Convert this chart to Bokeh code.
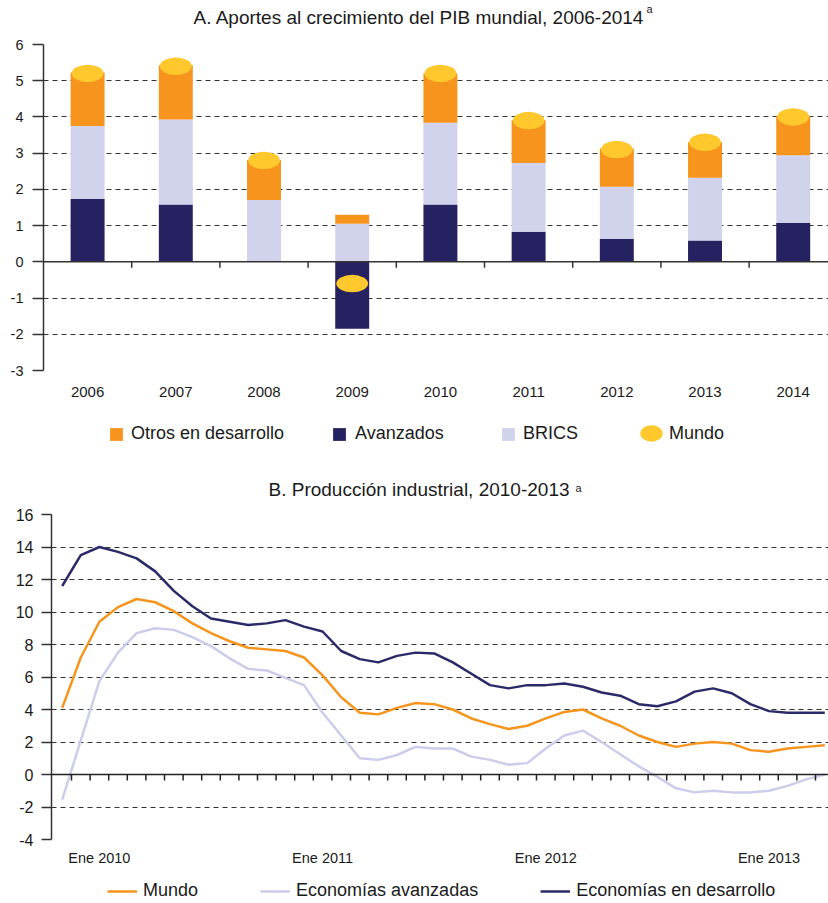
import math
import numpy as np
from bokeh.plotting import figure
from bokeh.layouts import column
from bokeh.models import (Range1d, FixedTicker, SingleIntervalTicker, Legend,
                          LegendItem, Span, Label)
from bokeh.embed import file_html
from bokeh.resources import INLINE

FONT = "Liberation Sans"
TXT = "#1a1a1a"
AX = "#333333"
W = 828

# ---------------- Panel A data ----------------
years = ["2006", "2007", "2008", "2009", "2010", "2011", "2012", "2013", "2014"]
avanzados = [1.74, 1.58, 0.03, -1.85, 1.58, 0.83, 0.63, 0.59, 1.08]
brics = [2.01, 2.35, 1.68, 1.05, 2.26, 1.90, 1.44, 1.73, 1.86]
otros = [1.48, 1.50, 1.10, 0.25, 1.36, 1.18, 1.06, 0.98, 1.09]
mundo = [5.2, 5.4, 2.8, -0.6, 5.2, 3.9, 3.1, 3.3, 4.0]

# ---------------- Panel B data ----------------
months = ["Nov 2009", "Dic 2009",
          "Ene 2010", "Feb 2010", "Mar 2010", "Abr 2010", "May 2010", "Jun 2010",
          "Jul 2010", "Ago 2010", "Sep 2010", "Oct 2010", "Nov 2010", "Dic 2010",
          "Ene 2011", "Feb 2011", "Mar 2011", "Abr 2011", "May 2011", "Jun 2011",
          "Jul 2011", "Ago 2011", "Sep 2011", "Oct 2011", "Nov 2011", "Dic 2011",
          "Ene 2012", "Feb 2012", "Mar 2012", "Abr 2012", "May 2012", "Jun 2012",
          "Jul 2012", "Ago 2012", "Sep 2012", "Oct 2012", "Nov 2012", "Dic 2012",
          "Ene 2013", "Feb 2013", "Mar 2013", "Abr 2013"]
ind_mundo = [4.1, 7.2, 9.4, 10.3, 10.8, 10.6, 10.05, 9.3, 8.7, 8.2, 7.8, 7.7, 7.6, 7.2,
             6.1, 4.75, 3.8, 3.7, 4.1, 4.4, 4.33, 4.0, 3.45, 3.1, 2.8, 3.0, 3.45, 3.85,
             4.0, 3.45, 3.0, 2.4, 2.0, 1.7, 1.9, 2.0, 1.9, 1.5, 1.4, 1.6, 1.7, 1.8]
ind_avanzadas = [-1.55, 2.1, 5.75, 7.5, 8.7, 9.0, 8.9, 8.45, 7.9, 7.15, 6.5, 6.4, 5.95, 5.5,
                 3.8, 2.4, 1.0, 0.9, 1.2, 1.7, 1.6, 1.6, 1.1, 0.9, 0.6, 0.7, 1.6, 2.4,
                 2.7, 2.0, 1.25, 0.5, -0.15, -0.85, -1.1, -1.0, -1.1, -1.1, -1.0, -0.7, -0.3, 0.0]
ind_desarrollo = [11.6, 13.5, 14.0, 13.7, 13.3, 12.5, 11.3, 10.35, 9.6, 9.4, 9.2, 9.3, 9.5, 9.1,
                  8.8, 7.6, 7.1, 6.9, 7.3, 7.5, 7.45, 6.9, 6.2, 5.5, 5.3, 5.5, 5.5, 5.6,
                  5.4, 5.05, 4.85, 4.33, 4.2, 4.5, 5.1, 5.3, 5.0, 4.33, 3.9, 3.8, 3.8, 3.8]

C_ORANGE = "#F7941E"
C_NAVY = "#262262"
C_BRICS = "#D1D3ED"
C_YELLOW = "#FFC82C"
C_LAV_LINE = "#CBCDEB"
C_NAVY_LINE = "#2B2A68"
NAN = np.array([np.nan])


def style_axes(p, tick_out, standoff, ysize):
    p.outline_line_color = None
    p.xgrid.visible = False
    p.ygrid.grid_line_color = "#333333"
    p.ygrid.grid_line_dash = "5 4"
    p.ygrid.grid_line_width = 1
    p.yaxis.axis_line_color = AX
    p.yaxis.axis_line_width = 1.5
    p.yaxis.major_tick_line_color = AX
    p.yaxis.major_tick_line_width = 1.5
    p.yaxis.major_tick_out = tick_out
    p.yaxis.major_tick_in = 0
    p.yaxis.minor_tick_line_color = None
    p.yaxis.major_label_standoff = standoff
    p.yaxis.major_label_text_font = FONT
    p.yaxis.major_label_text_font_size = ysize
    p.yaxis.major_label_text_color = TXT
    p.xaxis.axis_line_color = None
    p.xaxis.major_tick_line_color = None
    p.xaxis.minor_tick_line_color = None
    p.xaxis.major_label_text_font = FONT
    p.xaxis.major_label_text_color = TXT


def strip(h):
    s = figure(width=W, height=h, x_range=Range1d(0, W), y_range=Range1d(0, h),
               output_backend="svg", toolbar_location=None, min_border=0,
               min_border_left=0, min_border_right=0, min_border_top=0, min_border_bottom=0,
               x_axis_location=None, y_axis_location=None, frame_align=False)
    s.outline_line_color = None
    s.xgrid.visible = False
    s.ygrid.visible = False
    return s


def title_strip(h, text, x, y, ax, ay):
    s = strip(h)
    s.add_layout(Label(x=x, y=y, text=text, text_font=FONT, text_font_size="19px",
                       text_color=TXT, text_baseline="middle", text_align="left"))
    s.add_layout(Label(x=ax, y=ay, text="a", text_font=FONT, text_font_size="11px",
                       text_color=TXT, text_baseline="middle", text_align="left"))
    return s


def legend_box(items, loc, gw, gh, standoff, spacing=0, orientation="vertical"):
    return Legend(items=items, location=loc, orientation=orientation,
                  glyph_width=gw, glyph_height=gh, label_standoff=standoff, label_height=16,
                  padding=0, margin=0, spacing=spacing, border_line_color=None,
                  background_fill_alpha=0, label_text_font=FONT, label_text_font_size="18px",
                  label_text_color=TXT)


# ---------------- Panel A ----------------
tA = title_strip(34, "A. Aportes al crecimiento del PIB mundial, 2006-2014", 193, 17.5, 646, 25.5)

xa = list(range(len(years)))
pos_av = [max(v, 0.0) for v in avanzados]
brics_top = [a + b for a, b in zip(pos_av, brics)]
otros_top = [t + o for t, o in zip(brics_top, otros)]

p1 = figure(width=W, height=371, x_range=Range1d(-0.5, 8.4), y_range=Range1d(-3, 6),
            output_backend="svg", toolbar_location=None, frame_align=False,
            min_border_left=43, min_border_right=0, min_border_top=10, min_border_bottom=35)
style_axes(p1, 11, 9, "14.5px")
p1.yaxis.ticker = SingleIntervalTicker(interval=1)
p1.yaxis.major_label_overrides = {v: str(v) for v in range(-3, 7)}
p1.xaxis.ticker = FixedTicker(ticks=xa)
p1.xaxis.major_label_overrides = {i: y for i, y in zip(xa, years)}
p1.xaxis.major_label_standoff = 10
p1.xaxis.major_label_text_font_size = "15px"

bw = 0.385
p1.vbar(x=xa, width=bw, bottom=0, top=avanzados, fill_color=C_NAVY, line_color=None)
p1.vbar(x=xa, width=bw, bottom=pos_av, top=brics_top, fill_color=C_BRICS, line_color=None)
p1.vbar(x=xa, width=bw, bottom=brics_top, top=otros_top, fill_color=C_ORANGE, line_color=None)
p1.ellipse(x=xa, y=mundo, width=0.36, height=0.48, fill_color=C_YELLOW, line_color=None)

p1.add_layout(Span(location=0, dimension="width", line_color=AX, line_width=1.5))
p1.ray(x=[i + 0.5 for i in xa[:-1]], y=[0] * (len(xa) - 1), length=6, length_units="screen",
       angle=-math.pi / 2, line_color=AX, line_width=1.5)

# legend strip A
lA = strip(50)
g_ot = lA.vbar(x=NAN, width=1, top=NAN, fill_color=C_ORANGE, line_color=None)
g_av = lA.vbar(x=NAN, width=1, top=NAN, fill_color=C_NAVY, line_color=None)
g_br = lA.vbar(x=NAN, width=1, top=NAN, fill_color=C_BRICS, line_color=None)
g_mu = lA.ellipse(x=NAN, y=NAN, width=22, height=16, width_units="screen",
                  height_units="screen", fill_color=C_YELLOW, line_color=None)
lA.add_layout(legend_box([LegendItem(label="Otros en desarrollo", renderers=[g_ot])],
                         (108, 11), 16, 16, 7), "center")
lA.add_layout(legend_box([LegendItem(label="Avanzados", renderers=[g_av])],
                         (331, 11), 16, 16, 8), "center")
lA.add_layout(legend_box([LegendItem(label="BRICS", renderers=[g_br])],
                         (500, 11), 16, 16, 7), "center")
lA.add_layout(legend_box([LegendItem(label="Mundo", renderers=[g_mu])],
                         (637, 8), 28, 28, 4), "center")

# ---------------- Panel B ----------------
tB = title_strip(45, "B. Producción industrial, 2010-2013", 268, 11, 575, 13)

mx = list(range(len(months)))
p2 = figure(width=W, height=368, x_range=Range1d(-0.575, 41.2), y_range=Range1d(-4, 16),
            output_backend="svg", toolbar_location=None, frame_align=False,
            min_border_left=51, min_border_right=0, min_border_top=14, min_border_bottom=27)
style_axes(p2, 10, 8, "16px")
p2.yaxis.ticker = SingleIntervalTicker(interval=2)
p2.yaxis.major_label_overrides = {v: str(v) for v in range(-4, 18, 2)}
jan = [i for i, m in enumerate(months) if m.startswith("Ene")]
p2.xaxis.ticker = FixedTicker(ticks=jan)
p2.xaxis.major_label_overrides = {i: months[i] for i in jan}
p2.xaxis.major_label_standoff = 4
p2.xaxis.major_label_text_font_size = "14.5px"

p2.line(mx, ind_mundo, line_color=C_ORANGE, line_width=2.5)
p2.line(mx, ind_avanzadas, line_color=C_LAV_LINE, line_width=2.5)
p2.line(mx, ind_desarrollo, line_color=C_NAVY_LINE, line_width=2.5)

p2.add_layout(Span(location=0, dimension="width", line_color="#222222", line_width=1.5))
p2.ray(x=[i + 0.5 for i in mx[:-1]], y=[0] * (len(mx) - 1), length=6, length_units="screen",
       angle=-math.pi / 2, line_color="#222222", line_width=1.5)

# legend strip B
lB = strip(34)
h1 = lB.line(x=NAN, y=NAN, line_color=C_ORANGE, line_width=2.5)
h2 = lB.line(x=NAN, y=NAN, line_color=C_LAV_LINE, line_width=2.5)
h3 = lB.line(x=NAN, y=NAN, line_color=C_NAVY_LINE, line_width=2.5)
lB.add_layout(legend_box([LegendItem(label="Mundo", renderers=[h1]),
                          LegendItem(label="Economías avanzadas", renderers=[h2]),
                          LegendItem(label="Economías en desarrollo", renderers=[h3])],
                         (107, 1), 30, 16, 6, spacing=62, orientation="horizontal"), "center")

layout = column(tA, p1, lA, tB, p2, lB)
open("out.html", "w").write(file_html(layout, INLINE))
